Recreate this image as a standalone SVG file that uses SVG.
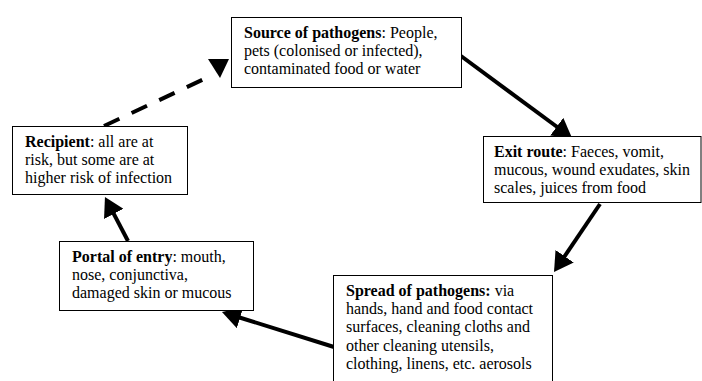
<svg xmlns="http://www.w3.org/2000/svg" width="702" height="381" viewBox="0 0 702 381">
<style>
  .box { fill: #ffffff; stroke: #000000; stroke-width: 1; }
  .t { font-family: 'Liberation Serif', Tinos, 'Times New Roman', serif; font-size: 16px; fill: #000000; }
  .b { font-weight: bold; }
  .arrow { stroke: #000000; stroke-width: 4; fill: none; marker-end: url(#head); }
  .dash { stroke: #000000; stroke-width: 4; fill: none; stroke-dasharray: 17 13.5; }
</style>
<defs>
  <marker id="head" markerUnits="userSpaceOnUse" markerWidth="20" markerHeight="22" refX="9" refY="11" orient="auto">
    <path d="M0,0 L19,11 L0,22 z" fill="#000000"/>
  </marker>
</defs>
<rect x="0" y="0" width="702" height="381" fill="#ffffff"/>
<g id="connectors">
  <line class="arrow" x1="461" y1="56" x2="564" y2="132"/>
  <line class="arrow" x1="600" y1="204" x2="559.6" y2="263.7"/>
  <line class="arrow" x1="334" y1="347" x2="231.5" y2="315"/>
  <line class="arrow" x1="128" y1="241" x2="109.6" y2="205.9"/>
  <line class="dash" x1="104" y1="126" x2="203" y2="79.5"/>
  <polygon points="208,59 229,59 220,78" fill="#000000"/>
</g>
<g id="source">
  <rect class="box" x="231.5" y="17.5" width="230" height="70"/>
  <text class="t" x="244" y="38"><tspan class="b">Source of pathogens</tspan>: People,</text>
  <text class="t" x="244" y="56">pets (colonised or infected),</text>
  <text class="t" x="244" y="74">contaminated food or water</text>
</g>
<g id="exit">
  <rect class="box" x="483.5" y="136.5" width="217.5" height="66"/>
  <text class="t" x="494" y="157"><tspan class="b">Exit route</tspan>: Faeces, vomit,</text>
  <text class="t" x="494" y="175">mucous, wound exudates, skin</text>
  <text class="t" x="494" y="193">scales, juices from food</text>
</g>
<g id="spread">
  <rect class="box" x="333.5" y="275.5" width="219" height="120"/>
  <text class="t" x="346" y="296"><tspan class="b">Spread of pathogens:</tspan> via</text>
  <text class="t" x="346" y="314">hands, hand and food contact</text>
  <text class="t" x="346" y="332">surfaces, cleaning cloths and</text>
  <text class="t" x="346" y="351">other cleaning utensils,</text>
  <text class="t" x="346" y="369">clothing, linens, etc. aerosols</text>
</g>
<g id="portal">
  <rect class="box" x="59.5" y="241.5" width="194" height="69"/>
  <text class="t" x="72" y="262"><tspan class="b">Portal of entry</tspan>: mouth,</text>
  <text class="t" x="72" y="280">nose, conjunctiva,</text>
  <text class="t" x="72" y="298">damaged skin or mucous</text>
</g>
<g id="recipient">
  <rect class="box" x="12.5" y="126.5" width="175" height="68"/>
  <text class="t" x="25" y="147"><tspan class="b">Recipient</tspan>: all are at</text>
  <text class="t" x="25" y="165">risk, but some are at</text>
  <text class="t" x="25" y="183">higher risk of infection</text>
</g>
</svg>
